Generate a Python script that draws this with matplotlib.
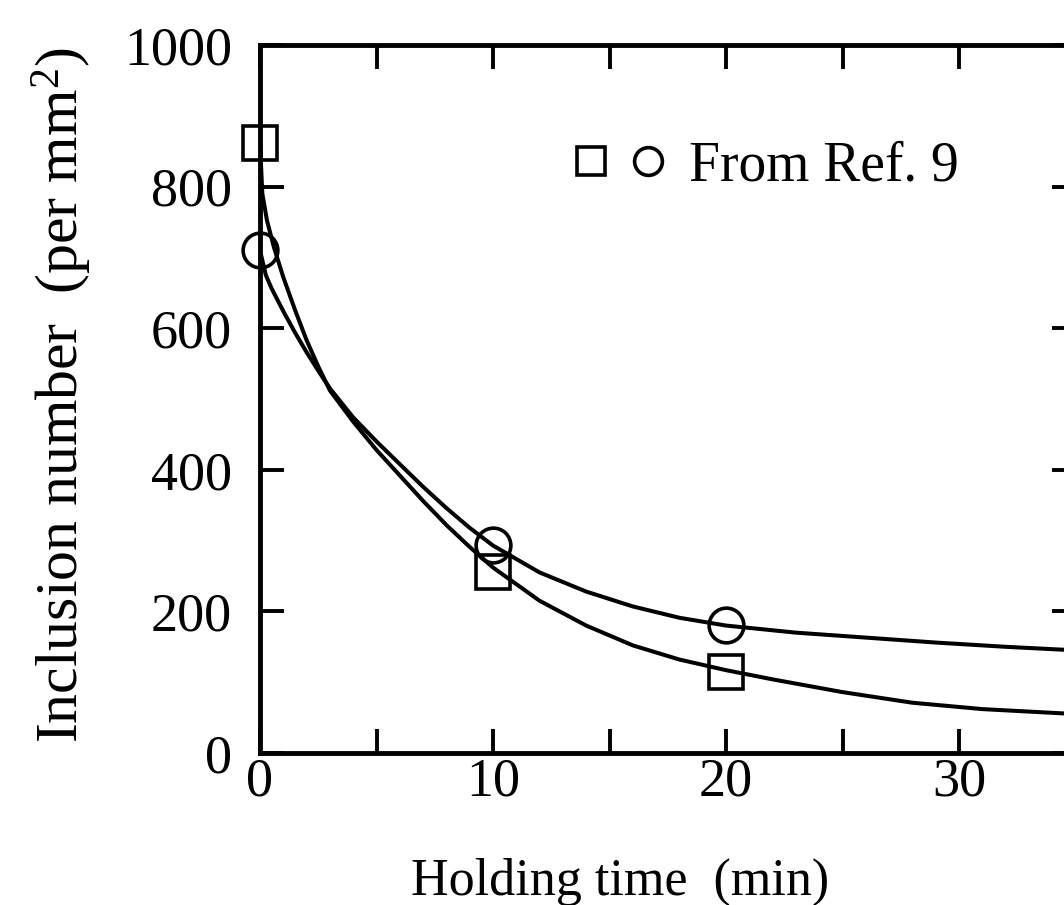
import matplotlib
matplotlib.use("Agg")
import matplotlib.pyplot as plt
from matplotlib.lines import Line2D
from matplotlib.legend_handler import HandlerTuple
from matplotlib.ticker import MultipleLocator

plt.rcParams['font.family'] = ['Liberation Serif', 'DejaVu Serif']
plt.rcParams['mathtext.fontset'] = 'custom'
plt.rcParams['mathtext.rm'] = 'Liberation Serif'
plt.rcParams['mathtext.it'] = 'Liberation Serif:italic'

# Measured data points (From Ref. 9)
time_points = [0, 10, 20]
square_values = [862, 256, 115]
circle_values = [710, 294, 181]

# Fitted curves
square_curve_x = [0, 0.1, 0.3, 0.6, 1.0, 1.5, 2.0, 2.5, 3.0, 4.0, 5.0, 6.0, 7.0, 8.0,
                  9.0, 10, 12, 14, 16, 18, 20, 22, 25, 28, 31, 35]
square_curve_y = [862, 790, 752, 714, 672, 626, 583, 546, 512, 468, 428, 392, 356, 322,
                  291, 262, 215, 180, 152, 132, 117, 104, 86, 71, 62, 55]
circle_curve_x = [0, 0.25, 0.5, 1.0, 1.5, 2.0, 2.5, 3.0, 4.0, 5.0, 6.0, 7.0, 8.0, 9.0,
                  10, 12, 14, 16, 18, 20, 23, 26, 29, 32, 35]
circle_curve_y = [710, 675, 656, 624, 594, 566, 540, 515, 474, 440, 408, 376, 346, 318,
                  293, 255, 228, 207, 191, 180, 170, 163, 156, 150, 145]

x_major_ticks = [0, 10, 20, 30]
y_ticks = [0, 200, 400, 600, 800, 1000]

fig = plt.figure(figsize=(10.64, 9.05), dpi=100)
ax = fig.add_axes([260 / 1064, (905 - 753) / 905, 815.5 / 1064, 708 / 905])

ax.plot(square_curve_x, square_curve_y, color='black', lw=2.9, solid_capstyle='round')
ax.plot(circle_curve_x, circle_curve_y, color='black', lw=2.9, solid_capstyle='round')
ax.plot(time_points, square_values, linestyle='none', marker='s', ms=25,
        mfc='none', mec='black', mew=2.6, clip_on=False, zorder=5)
ax.plot(time_points, circle_values, linestyle='none', marker='o', ms=25,
        mfc='none', mec='black', mew=2.6, clip_on=False, zorder=5)

ax.set_xlim(0, 35)
ax.set_ylim(0, 1000)
ax.set_xticks(x_major_ticks)
ax.xaxis.set_minor_locator(MultipleLocator(5))
ax.set_yticks(y_ticks)

for s in ax.spines.values():
    s.set_linewidth(3.5)

ax.tick_params(which='both', direction='in', top=True, right=True,
               length=17, width=2.8, labelsize=39)
ax.tick_params(axis='x', which='major', pad=3)
ax.tick_params(axis='y', which='major', pad=20)

ax.set_xlabel('Holding time  (min)', fontsize=37.5, va='center')
ax.xaxis.set_label_coords(0.441, -0.182)
ax.set_ylabel('Inclusion number  (per mm$^2$)', fontsize=43, va='center')
ax.yaxis.set_label_coords(-0.243, 0.505)

sq_handle = Line2D([], [], linestyle='none', marker='s', ms=20, mfc='none',
                   mec='black', mew=2.6)
ci_handle = Line2D([], [], linestyle='none', marker='o', ms=20, mfc='none',
                   mec='black', mew=2.6)
ax.legend([(sq_handle, ci_handle)], ['From Ref. 9'],
          handler_map={tuple: HandlerTuple(ndivide=None, pad=0)},
          loc='center left', bbox_to_anchor=(0.371, 0.828), frameon=False,
          fontsize=40, borderpad=0, borderaxespad=0, handlelength=2.05,
          handletextpad=0.22)

fig.savefig('out.png', dpi=100)
